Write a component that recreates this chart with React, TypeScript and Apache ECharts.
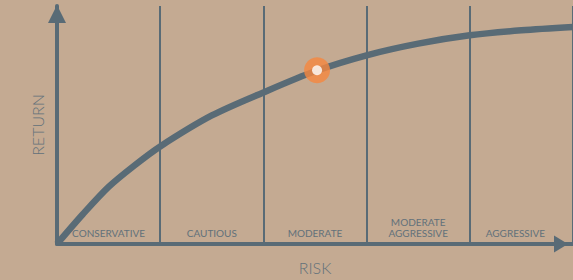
import React, { useEffect, useRef } from "react";
import * as echarts from "echarts";

const riskCategories = ["CONSERVATIVE", "CAUTIOUS", "MODERATE", "MODERATE\nAGGRESSIVE", "AGGRESSIVE"];
const curveRisk = [0, 0.25, 0.5, 0.75, 1.0, 1.5, 2.0, 2.5, 3.0, 3.5, 4.0, 4.5, 5.0];
const curveReturn = [0, 12.5, 24, 33, 41, 54, 63.7, 72.6, 79.3, 84.2, 87.7, 89.8, 91.2];
const markerPoint = [2.52, 73];

const BG = "#c4aa92";
const SLATE = "#596b76";
const TEXT = "#62717a";
const ORANGE = "#f6873f";

export default function App() {
  const ref = useRef<HTMLDivElement>(null);
  useEffect(() => {
    document.body.style.margin = "0";
    document.body.style.background = BG;
    const chart = echarts.init(ref.current!, null, { renderer: "svg" });
    chart.setOption({
      animation: false,
      backgroundColor: BG,
      grid: { left: 57, top: 6, width: 517, height: 245 },
      xAxis: [
        {
          type: "value",
          min: 0,
          max: 5,
          interval: 1,
          position: "bottom",
          name: "RISK",
          nameLocation: "middle",
          nameGap: 15,
          nameTextStyle: { fontFamily: "Lato", fontSize: 16, fontWeight: 300, color: TEXT, verticalAlign: "top" },
          axisLine: {
            show: true,
            lineStyle: { color: SLATE, width: 4 },
            symbol: ["none", "triangle"],
            symbolSize: [17, 14],
            symbolOffset: [0, -12],
          },
          axisTick: { show: false },
          axisLabel: { show: false },
          splitLine: { show: true, lineStyle: { color: SLATE, width: 2 } },
        },
        {
          type: "category",
          data: riskCategories.map((c, i) =>
            i === riskCategories.length - 1 ? { value: c, textStyle: { padding: [0, 12, 0, 0] } } : c
          ),
          position: "bottom",
          boundaryGap: true,
          axisLine: { show: false },
          axisTick: { show: false },
          splitLine: { show: false },
          axisLabel: {
            inside: true,
            margin: 6,
            fontFamily: "Lato",
            fontSize: 10,
            color: TEXT,
            lineHeight: 11,
            interval: 0,
          },
        },
      ],
      yAxis: {
        type: "value",
        min: 0,
        max: 100,
        name: "RETURN",
        nameLocation: "middle",
        nameRotate: 90,
        nameGap: 12,
        nameTextStyle: { fontFamily: "Lato", fontSize: 16, fontWeight: 300, color: TEXT },
        axisLine: {
          show: true,
          lineStyle: { color: SLATE, width: 4 },
          symbol: ["none", "triangle"],
          symbolSize: [18, 18],
          symbolOffset: [0, -8],
        },
        axisTick: { show: false },
        axisLabel: { show: false },
        splitLine: { show: false },
      },
      series: [
        {
          type: "line",
          xAxisIndex: 0,
          data: curveRisk.map((x, i) => [x, curveReturn[i]]),
          smooth: 0.3,
          showSymbol: false,
          lineStyle: { color: SLATE, width: 6.5 },
          z: 3,
        },
        {
          type: "scatter",
          xAxisIndex: 0,
          data: [markerPoint],
          symbol: "circle",
          symbolSize: 26,
          itemStyle: { color: ORANGE },
          z: 4,
        },
        {
          type: "scatter",
          xAxisIndex: 0,
          data: [markerPoint],
          symbol: "circle",
          symbolSize: 10,
          itemStyle: { color: "#ffffff" },
          z: 5,
        },
      ],
    });
    return () => chart.dispose();
  }, []);
  return <div ref={ref} style={{ width: 573, height: 280, background: BG }} />;
}
